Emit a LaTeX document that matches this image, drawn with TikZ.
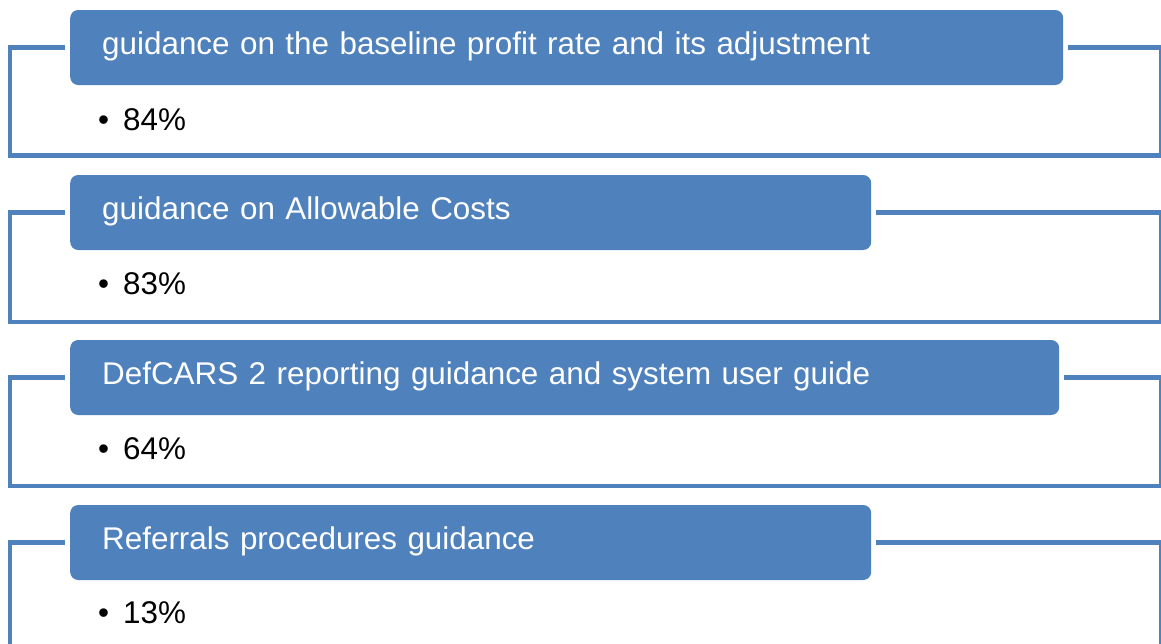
\documentclass[tikz,border=0pt]{standalone}
\usepackage{fontspec}
\setmainfont{Liberation Sans}
\definecolor{hdblue}{HTML}{4F81BD}

\begin{document}
\begin{tikzpicture}[x=1pt, y=-1pt,
		head/.style={fill=hdblue, rounded corners=8pt, minimum height=75pt, inner xsep=32pt, inner ysep=0pt, anchor=west, align=left, text=white, font=\fontsize{31.4}{37}\selectfont},
		frame/.style={draw=hdblue, line width=4.5pt},
		val/.style={anchor=base west, inner sep=0pt, font=\fontsize{31.4}{37}\selectfont}]
		\useasboundingbox (0,0) rectangle (1161,643);
		\clip (0,0) rectangle (1161,643);
		% frames
		\coordinate (bl1) at (10,155.5);   \coordinate (br1) at (1161.5,155.5);
		\coordinate (bl2) at (10,322);     \coordinate (br2) at (1161.5,322);
		\coordinate (bl3) at (10,486);     \coordinate (br3) at (1161.5,486);
		\coordinate (bl4) at (10,651);     \coordinate (br4) at (1161.5,651);
		% headers
		\node[head, text width=929pt] (head1) at (70,47.5) {\strut guidance on the baseline profit rate and its adjustment};
		\node[head, text width=737pt] (head2) at (70,212.5) {\strut guidance on Allowable Costs};
		\node[head, text width=925pt] (head3) at (70,377.5) {\strut DefCARS 2 reporting guidance and system user guide};
		\node[head, text width=737pt] (head4) at (70,542.5) {\strut Referrals procedures guidance};
		\draw[frame] ([xshift=-5pt]head1.west) -| (bl1) -- (br1) |- ([xshift=5pt]head1.east);
		\draw[frame] ([xshift=-5pt]head2.west) -| (bl2) -- (br2) |- ([xshift=5pt]head2.east);
		\draw[frame] ([xshift=-5pt]head3.west) -| (bl3) -- (br3) |- ([xshift=5pt]head3.east);
		\draw[frame] ([xshift=-5pt]head4.west) -| (bl4) -- (br4) |- ([xshift=5pt]head4.east);
		% values
		\node[val] (val1) at (98,130) {•\hspace{14pt}84\%};
		\node[val] (val2) at (98,294.5) {•\hspace{14pt}83\%};
		\node[val] (val3) at (98,459) {•\hspace{14pt}64\%};
		\node[val] (val4) at (98,623.5) {•\hspace{14pt}13\%};
	\end{tikzpicture}
\end{document}
